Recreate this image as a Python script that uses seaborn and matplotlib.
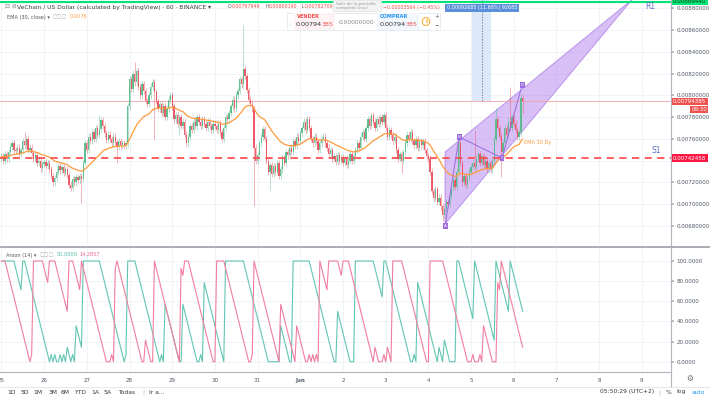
import numpy as np
import pandas as pd
import matplotlib
matplotlib.use("Agg")
import matplotlib.pyplot as plt
import matplotlib.transforms as mtransforms
from matplotlib.patches import Rectangle, Polygon
from matplotlib.ticker import FuncFormatter
import seaborn as sns

# VET/USD hourly closes in 1e-6 USD, one row per day (May 25 ... Jun 6 05:00)
closes = [
    7440, 7400, 7460, 7420, 7480, 7530, 7560, 7500, 7490, 7520, 7460, 7500, 7580, 7540, 7600, 7500, 7520, 7470, 7420, 7450, 7380, 7400, 7330, 7370,
    7390, 7350, 7380, 7320, 7260, 7200, 7240, 7300, 7350, 7310, 7340, 7290, 7320, 7270, 7180, 7150, 7230, 7200, 7250, 7220, 7260, 7230, 7380, 7560,
    7500, 7620, 7580, 7660, 7600, 7700, 7640, 7690, 7770, 7720, 7650, 7590, 7640, 7600, 7560, 7620, 7570, 7530, 7580, 7540, 7560, 7540, 7560, 7900,
    8150, 8060, 8200, 8120, 8220, 8080, 8000, 8100, 8040, 7950, 7920, 8000, 8080, 8120, 8030, 7950, 7880, 7920, 7840, 7900, 7800, 7880, 7960, 8000,
    7900, 7780, 7820, 7740, 7800, 7720, 7760, 7640, 7560, 7620, 7720, 7680, 7760, 7720, 7800, 7760, 7720, 7780, 7740, 7700, 7760, 7720, 7680, 7740,
    7720, 7680, 7740, 7660, 7600, 7700, 7800, 7780, 7840, 7900, 7960, 7880, 8000, 8040, 8150, 8100, 8240, 8180, 8050, 7960, 7920, 7880, 7520, 7400,
    7450, 7560, 7620, 7690, 7600, 7400, 7300, 7360, 7280, 7350, 7300, 7380, 7260, 7320, 7420, 7380, 7480, 7450, 7520, 7480, 7580, 7540, 7620, 7580,
    7650, 7700, 7760, 7680, 7780, 7700, 7600, 7560, 7620, 7580, 7500, 7560, 7600, 7620, 7560, 7520, 7460, 7500, 7420, 7440, 7390, 7450, 7400, 7430,
    7380, 7420, 7360, 7400, 7460, 7400, 7440, 7500, 7560, 7520, 7620, 7660, 7600, 7700, 7780, 7720, 7820, 7760, 7700, 7780, 7740, 7800, 7760, 7820,
    7700, 7620, 7680, 7640, 7580, 7620, 7500, 7420, 7460, 7400, 7480, 7560, 7640, 7600, 7660, 7580, 7540, 7600, 7520, 7580, 7540, 7580, 7500, 7440,
    7420, 7300, 7120, 7060, 7140, 7020, 7060, 6980, 6900, 6960, 7020, 7000, 7080, 7150, 7220, 7160, 7300, 7560, 7380, 7200, 7260, 7180, 7240, 7300,
    7340, 7380, 7340, 7420, 7460, 7380, 7440, 7360, 7400, 7330, 7380, 7320, 7400, 7600, 7780, 7700, 7620, 7480, 7560, 7700, 7640, 7760, 7700, 7800,
    7740, 7680, 7620, 7660, 7979.49, 7943.85,
]
first_open = 7420
wick = 30  # typical wick length beyond the body
spike_high = {13: 7660, 55: 7820, 75: 8310, 136: 8650, 257: 7640, 266: 7680, 278: 7880, 286: 8080, 293: 8001.90}
spike_low = {45: 7010, 65: 7380, 86: 7590, 100: 7640, 142: 6980, 151: 7130, 225: 7290, 248: 6850, 281: 7250, 293: 7827.09}

s1_level = 7424.58
r1_level = 8894.40
last_price = 7943.85

day_labels = ["25", "26", "27", "28", "29", "30", "31", "Jun", "2", "3", "4", "5", "6", "7", "8", "9"]
price_ticks = [6800, 7000, 7200, 7400, 7600, 7800, 8000, 8200, 8400, 8600, 8800]
aroon_ticks = [0, 20, 40, 60, 80, 100]

# chart drawings anchored at (hour, price)
wedge_t = [249.4, 249.4, 354.5]
wedge_p = [6818, 7480, 8880]
pivot_t = [249.4, 257.3, 281.4, 292.7]
pivot_p = [6800, 7618, 7425, 8095]
pivot_names = ["A", "B", "C", "D"]
measure_t = [264.6, 275.3]

# ---- frame ----
W, H = 710, 397
UP, DOWN = "#53b987", "#eb4d5c"
GRID = "#eef1f6"
AXC = "#b2b5be"
TXT = "#4f5966"

sns.set_theme(style="white")
plt.rcParams["font.family"] = ["DejaVu Sans"]

fig = plt.figure(figsize=(W / 100, H / 100), dpi=100)
fig.patch.set_facecolor("white")


def fx(x):
    return x / W


def fy(y):
    return 1 - y / H


ax = fig.add_axes([0, fy(245), fx(671), 245 / H])
axa = fig.add_axes([0, fy(372), fx(671), 124 / H])

# ---- data frame & indicators ----
n = len(closes)
close_arr = np.array(closes, dtype=float)
opens = np.array([first_open] + closes[:-1], dtype=float)
highs = np.maximum(opens, close_arr) + wick
lows = np.minimum(opens, close_arr) - wick
for i, v in spike_high.items():
    highs[i] = v
for i, v in spike_low.items():
    lows[i] = v

df = pd.DataFrame({"hour": np.arange(n), "open": opens, "high": highs, "low": lows, "close": close_arr})
df["ema"] = df["close"].ewm(span=30, adjust=False).mean()
period = 14
since_hi = df["high"].rolling(period + 1, min_periods=1).apply(lambda w: np.argmax(w[::-1]), raw=True)
since_lo = df["low"].rolling(period + 1, min_periods=1).apply(lambda w: np.argmin(w[::-1]), raw=True)
df["aroon_up"] = 100 * (period - since_hi) / period
df["aroon_down"] = 100 * (period - since_lo) / period

# ---- main price pane ----
ppu = 0.10885  # pixels per 1e-6 USD
y_top = 8800 + 8.3 / ppu
y_bot = 8800 - (245 - 8.3) / ppu
x_lim = (-0.8, 376.4)
day_ticks = [24 * i for i in range(len(day_labels))]


def price_fmt(v, _):
    # the S1 marker hides this tick label on the reference
    return "" if abs(v - 7400) < 1 else f"{v * 1e-6:.8f}"


ax.set_xlim(*x_lim)
ax.set_ylim(y_bot, y_top)
ax.set_xticks(day_ticks)
ax.set_yticks(price_ticks)
ax.grid(True, color=GRID, lw=0.6, zorder=0)
ax.yaxis.tick_right()
ax.yaxis.set_major_formatter(FuncFormatter(price_fmt))
ax.tick_params(axis="y", labelsize=4, labelcolor=TXT, length=2, color=AXC, pad=2)
ax.tick_params(axis="x", length=0, labelbottom=False)
for s in ["top", "left", "bottom"]:
    ax.spines[s].set_visible(False)
ax.spines["right"].set_color(AXC)
ax.spines["right"].set_linewidth(0.8)

# measure tool
ax.add_patch(Rectangle((measure_t[0], last_price), measure_t[1] - measure_t[0], y_top - last_price,
                       fc="#d6e6fb", ec="none", alpha=0.85, zorder=1))
ax.plot([np.mean(measure_t)] * 2, [last_price, y_top], color="#555", lw=0.5, ls=(0, (2, 2)), zorder=2)

# rising wedge
ax.add_patch(Polygon(list(zip(wedge_t, wedge_p)), closed=True, fc="#b98cf0", ec="#9c6ade",
                     lw=0.8, alpha=0.55, zorder=2))

# candles
cols = np.where(df["close"] >= df["open"], UP, DOWN)
ax.vlines(df["hour"], df["low"], df["high"], colors=cols, lw=0.5, alpha=0.6, zorder=3)
body_lo = np.minimum(df["open"], df["close"])
body_h = np.maximum(np.abs(df["close"] - df["open"]), 5)
ax.bar(df["hour"], body_h, bottom=body_lo, width=0.72, color=cols, alpha=0.9, lw=0, zorder=4)

sns.lineplot(data=df, x="hour", y="ema", ax=ax, color="#ff9a3c", lw=0.9, zorder=5)
ax.set_xlabel("")
ax.set_ylabel("")

# horizontal levels
ax.axhline(last_price, color="#f3a3a3", lw=0.6, zorder=2)
ax.axhline(s1_level, color="#ff5252", lw=1.3, ls=(0, (4, 3)), zorder=6)
ax.axhline(y_top - 1.5 / ppu, color="#00e676", lw=1.5, zorder=6)  # R1 pinned at top edge

# pattern pivots
ax.plot(pivot_t, pivot_p, color="#9c6ade", lw=0.7, zorder=7)
for t, p, name in zip(pivot_t, pivot_p, pivot_names):
    ax.text(t, p, name, fontsize=3, color="white", ha="center", va="center", zorder=8,
            bbox=dict(boxstyle="square,pad=0.25", fc="#9c6ade", ec="none"))

ax.text(294, 7563, "EMA 30 Dy", fontsize=3.6, color="#ff9a3c", va="center", zorder=8)
ax.text(368, 7452, "S1", fontsize=5.5, color="#5c6bc0", ha="center", va="bottom", zorder=8)
ax.text(364.6, 8821, "R1", fontsize=5.5, color="#5c6bc0", ha="center", va="center", zorder=8)


def right_label(a, y, text, fc, tc="white", dx_px=2, ha="left"):
    tr = mtransforms.blended_transform_factory(a.transAxes, a.transData) + \
        mtransforms.ScaledTranslation(dx_px / 100, 0, fig.dpi_scale_trans)
    a.text(1.0, y, text, transform=tr, ha=ha, va="center", fontsize=4, color=tc, zorder=10,
           clip_on=False, bbox=dict(boxstyle="square,pad=0.25", fc=fc, ec="none"))


right_label(ax, last_price, f"{last_price * 1e-6:.8f}", "#ef5350")
right_label(ax, last_price - 8 / ppu, "09:30", "#ef5350", dx_px=36, ha="right")
right_label(ax, s1_level, f"{s1_level * 1e-6:.8f}", "#ff1744")
right_label(ax, y_top - 1.5 / ppu, f"{r1_level * 1e-6:.8f}", "#00e676", tc="#1b3a1b")

# ---- aroon pane ----
axa.set_xlim(*x_lim)
axa.set_ylim(-10.2, 112.9)
axa.set_xticks(day_ticks)
axa.set_xticklabels(day_labels)
for lab in axa.get_xticklabels():
    if lab.get_text() == "Jun":
        lab.set_fontweight("bold")
axa.set_yticks(aroon_ticks)
axa.yaxis.set_major_formatter(FuncFormatter(lambda v, _: f"{v:.4f}"))
axa.yaxis.tick_right()
axa.grid(True, color=GRID, lw=0.6, zorder=0)
axa.tick_params(axis="y", labelsize=4, labelcolor=TXT, length=2, color=AXC, pad=2)
axa.tick_params(axis="x", labelsize=4, labelcolor=TXT, length=2, color=AXC, pad=2.5)
sns.lineplot(data=df, x="hour", y="aroon_up", ax=axa, color="#62c5b4", lw=0.8)
sns.lineplot(data=df, x="hour", y="aroon_down", ax=axa, color="#f27da0", lw=0.8)
axa.set_xlabel("")
axa.set_ylabel("")
for s in ["top", "left"]:
    axa.spines[s].set_visible(False)
for s in ["right", "bottom"]:
    axa.spines[s].set_color(AXC)
    axa.spines[s].set_linewidth(0.8)

# pane separator, axis column, toolbar border
fig.add_artist(plt.Line2D([0, 1], [fy(246.5)] * 2, color="#a9acb3", lw=1.4))
fig.add_artist(plt.Line2D([fx(671)] * 2, [fy(372), fy(387)], color=AXC, lw=0.8))
fig.add_artist(plt.Line2D([0, 1], [fy(387)] * 2, color="#e0e3eb", lw=0.6))

renderer = fig.canvas.get_renderer()


def seq_text(x, y, parts, size, **kw):
    for s, color, gap in parts:
        t = fig.text(fx(x), fy(y), s, fontsize=size, color=color, ha="left", va="center", **kw)
        x += t.get_window_extent(renderer).width + gap
    return x


# header
seq_text(4, 7, [("⊟", "#888", 2), ("Ⅲ", "#888", 2),
                ("VeChain / US Dollar (calculated by TradingView) · 60 · BINANCE ▾", "#3c3c3c", 0)], 4.3)
red = "#ef5350"
for x0, letter, val in [(228, "O", "0.00797949"), (265, "H", "0.00800190"), (302, "L", "0.00782709")]:
    seq_text(x0, 7, [(letter, "#555", 0.2), (val, red, 0)], 3.4)
seq_text(383, 7, [("−0.00003564 (−0.45%)", red, 0)], 3.4)
fig.add_artist(Rectangle((fx(333), fy(11)), fx(48), 11 / H, fc="#f3f3f3", ec="#dddddd", lw=0.4))
fig.text(fx(336), fy(5.5), "Salir de la pantalla\ncompleta (esc)", fontsize=3.1, color="#9a9a9a",
         ha="left", va="center", linespacing=1.0)

seq_text(7, 17, [("EMA (30, close) ▾", "#555", 3), ("▢▢▢", "#aaa", 3), ("0.0076", "#ff9a3c", 0)], 3.6)
seq_text(6, 255, [("Aroon (14) ▾", "#555", 3), ("▢▢▢", "#aaa", 3),
                  ("50.0000", "#4cb8a5", 2), ("14.2857", "#f06292", 0)], 3.6)

# trade panel
fig.add_artist(Rectangle((fx(287), fy(30)), fx(153), 17 / H, fc="white", ec="#e0e3eb", lw=0.5))
fig.add_artist(Rectangle((fx(294), fy(29.5)), fx(41), 16 / H, fc="#fdf3f4", ec="none"))
fig.add_artist(Rectangle((fx(377), fy(29.5)), fx(42), 16 / H, fc="#f2f7fd", ec="none"))
fig.text(fx(290), fy(21.5), "⋮", fontsize=4, color="#bbb", ha="center", va="center")
fig.text(fx(297), fy(16.5), "VENDER", fontsize=3.6, color=red, weight="bold", va="center")
seq_text(296, 24.5, [("0.00794", "#333", -1), ("385", red, 0)], 4.6)
fig.text(fx(356), fy(22), "0.00000000", fontsize=4.3, color="#888", ha="center", va="center")
fig.text(fx(380), fy(16.5), "COMPRAR", fontsize=3.6, color="#2196f3", weight="bold", va="center")
seq_text(380, 24.5, [("0.00794", "#333", -1), ("385", red, 0)], 4.6)
fig.text(fx(426), fy(21.5), "i", fontsize=4, color="#ff9800", weight="bold", ha="center", va="center",
         bbox=dict(boxstyle="circle,pad=0.25", fc="none", ec="#ff9800", lw=0.6))
fig.text(fx(436.5), fy(16.5), "+", fontsize=4, color="#555", ha="center", va="center")
fig.text(fx(436.5), fy(24.5), "−", fontsize=4, color="#555", ha="center", va="center")

# measure label
fig.text(fx(482), fy(8), "0.00092685 (11.68%) 92685", fontsize=3.5, color="white", ha="center",
         va="center", bbox=dict(boxstyle="square,pad=0.3", fc="#5b8fd9", ec="none"))

# bottom toolbar
for x0, s in [(12, "1D"), (25, "5D"), (38, "1M"), (53, "3M"), (65, "6M"), (80, "YTD"), (95, "1A"),
              (108, "5A"), (127, "Todas"), (143, "|"), (157, "Ir a...")]:
    fig.text(fx(x0), fy(392), s, fontsize=4.3, color="#bbb" if s == "|" else "#333", ha="center", va="center")
fig.text(fx(627), fy(392), "05:50:29 (UTC+2)", fontsize=4.3, color="#333", ha="center", va="center")
fig.text(fx(659), fy(392), "|", fontsize=4.3, color="#bbb", ha="center", va="center")
fig.text(fx(668), fy(392), "%", fontsize=4.3, color="#333", ha="center", va="center")
fig.text(fx(681), fy(392), "log", fontsize=4.3, color="#333", ha="center", va="center")
fig.text(fx(698), fy(392), "auto", fontsize=4.3, color="#2196f3", ha="center", va="center")
fig.text(fx(690), fy(378), "⚙", fontsize=5.5, color="#666", ha="center", va="center")

fig.savefig("out.png", dpi=100)
